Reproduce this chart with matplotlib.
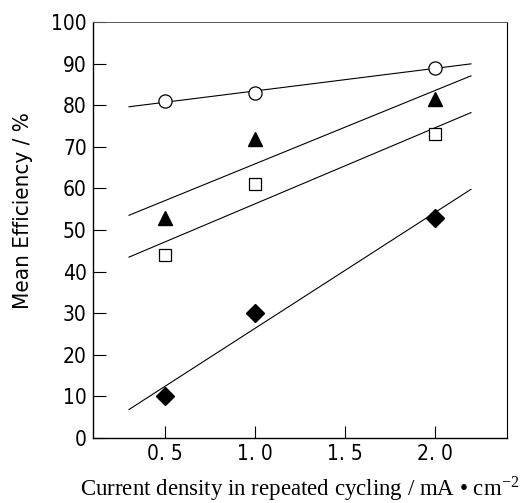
import numpy as np
import matplotlib
matplotlib.use("Agg")
import matplotlib.pyplot as plt

# current density (mA cm-2) and mean efficiency (%)
current = [0.5, 1.0, 2.0]
eff_circle = [81, 83, 89]
eff_triangle = [53, 72, 81.5]
eff_square = [44, 61, 73]
eff_diamond = [10, 30, 53]

fit_range = [0.3, 2.2]   # x span of the fitted lines
xticks = [0.5, 1.0, 1.5, 2.0]
xticklabels = ["0. 5", "1. 0", "1. 5", "2. 0"]
yticks = list(range(0, 101, 10))

plt.rcParams['mathtext.fontset'] = 'stix'

fig = plt.figure(figsize=(5.24, 5.03), dpi=100)
ax = fig.add_axes([0.1775, 0.1292, 0.79, 0.827])

series = [
    (eff_circle, dict(marker='o', mfc='white', mec='black', ms=9.5, mew=0.9)),
    (eff_triangle, dict(marker='^', mfc='black', mec='black', ms=9.5)),
    (eff_square, dict(marker='s', mfc='white', mec='black', ms=9, mew=0.9)),
    (eff_diamond, dict(marker='D', mfc='black', mec='black', ms=9)),
]

xfit = np.array(fit_range)
for yvals, style in series:
    slope, icpt = np.polyfit(current, yvals, 1)
    ax.plot(xfit, slope * xfit + icpt, color='black', lw=0.8, zorder=2)
    ax.plot(current, yvals, ls='none', zorder=3, **style)

ax.set_xlim(0.1, 2.4)
ax.set_ylim(0, 100)
ax.set_xticks(xticks)
ax.set_xticklabels(xticklabels, family='DejaVu Sans', fontstretch='condensed', fontsize=15)
ax.set_yticks(yticks)
ax.set_yticklabels([str(v) for v in yticks], family='DejaVu Sans', fontstretch='condensed', fontsize=15)
ax.tick_params(direction='in', length=9, width=0.8, pad=4.5)

for side in ['left', 'bottom']:
    ax.spines[side].set_linewidth(1.0)
ax.spines['top'].set_linewidth(0.7)
ax.spines['top'].set_color('#555555')
ax.spines['right'].set_linewidth(0.8)

ax.set_ylabel('Mean Efficiency / %', family='DejaVu Sans', fontstretch='condensed', fontsize=16)
ax.yaxis.set_label_coords(-0.145, 0.546)
ax.set_xlabel('Current density in repeated cycling / mA \u2022 cm$^{\\mathregular{-2}}$',
              family='Liberation Serif', fontsize=16.5)
ax.xaxis.set_label_coords(0.5, -0.088)

fig.savefig('out.png', dpi=100)
